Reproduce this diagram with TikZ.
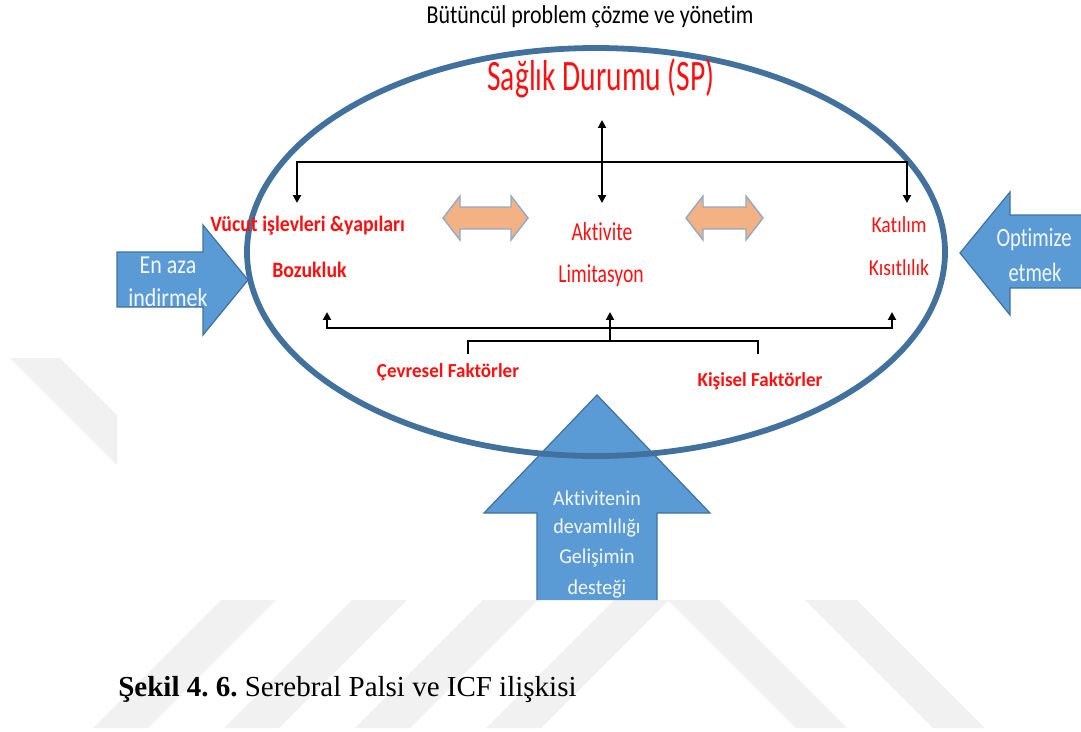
\documentclass[tikz,border=0pt]{standalone}
\usepackage{fontspec}
\usepackage{graphicx}
\setmainfont[Ligatures=NoCommon]{Carlito}
\newfontfamily\tnr{Liberation Serif}
\usetikzlibrary{arrows.meta}
\definecolor{ellc}{HTML}{41719C}
\definecolor{arrb}{HTML}{5B9BD5}
\definecolor{orng}{HTML}{F4B183}
\definecolor{orngb}{HTML}{8FAAC8}
\definecolor{wm}{HTML}{F1F1F1}
\definecolor{txtred}{HTML}{FF1010}
\definecolor{arrtxt}{HTML}{F4F7FC}
\newcommand\hs[2]{\scalebox{#1}[1]{#2}}
\newcommand\fsz[1]{\fontsize{#1}{#1}\selectfont}
\frenchspacing
\tikzset{
  >={Triangle[length=4.5pt,width=4.5pt]},
  ln/.style={line width=1.5pt, black},
  redtxt/.style={text=txtred, inner sep=0pt},
  arrtext/.style={text=arrtxt, inner sep=0pt},
  bluearrow/.style={fill=arrb, draw=ellc, line width=0.7pt, line join=miter},
  orangearrow/.style={fill=orng, draw=orngb, line width=0.8pt, line join=miter},
  wmark/.style={fill=wm, draw=none}
}
\begin{document}
\begin{tikzpicture}[x=0.02cm,y=-0.02cm]
\useasboundingbox (0,0) rectangle (1081,731);
% watermark stripes
\fill[wmark] (10,358) -- (60,358) -- (117,415) -- (117,465) -- cycle;
\foreach \t in {221,352,483,614}{
  \fill[wmark] (\t,600) -- (\t+55,600) -- (\t-73,728) -- (\t-128,728) -- cycle;
}
\fill[wmark] (668,600) -- (719,600) -- (847,728) -- (796,728) -- cycle;
\fill[wmark] (805,600) -- (857,600) -- (985,728) -- (933,728) -- cycle;

% blue arrows
\draw[bluearrow] (117,252) -- (203,252) -- (203,225) -- (248,280) -- (203,335) -- (203,307) -- (117,307) -- cycle;
\draw[bluearrow] (1081,215) -- (1010,215) -- (1010,192) -- (960,253) -- (1010,315) -- (1010,288) -- (1081,288);
\draw[bluearrow] (537,600) -- (537,513) -- (484,513) -- (597,395) -- (710,513) -- (657,513) -- (657,600);

% ellipse
\draw[ellc, line width=3.3pt] (596,252) ellipse [x radius=349, y radius=204];

% orange double arrows
\draw[orangearrow] (443,218) -- (460,196) -- (460,207) -- (511,207) -- (511,196) -- (528,218) -- (511,240) -- (511,229) -- (460,229) -- (460,240) -- cycle;
\draw[orangearrow] (686,218) -- (703,196) -- (703,207) -- (746,207) -- (746,196) -- (763,218) -- (746,240) -- (746,229) -- (703,229) -- (703,240) -- cycle;

% texts
\node[inner sep=0pt] (title) at (590,17) {\fsz{14.7}\hs{0.85}{Bütüncül problem çözme ve yönetim}};
\node[redtxt] (sp) at (601,78) {\fsz{24.7}\hs{0.68}{Sağlık Durumu (SP)}};
\node[redtxt, anchor=west] (vucut) at (210,226) {\fsz{12.5}\hs{0.9}{\bfseries Vücut işlevleri \&yapıları}};
\node[redtxt, anchor=west] (boz) at (272,270) {\fsz{12.5}\hs{0.9}{\bfseries Bozukluk}};
\node[redtxt] (akt) at (602,232) {\fsz{14.7}\hs{0.76}{Aktivite}};
\node[redtxt] (lim) at (601,276) {\fsz{14.7}\hs{0.76}{Limitasyon}};
\node[redtxt] (kat) at (899,225) {\fsz{13}\hs{0.86}{Katılım}};
\node[redtxt] (kis) at (899,268) {\fsz{13}\hs{0.86}{Kısıtlılık}};
\node[redtxt] (cev) at (448,372) {\fsz{11.3}\hs{0.96}{\bfseries Çevresel Faktörler}};
\node[redtxt] (kisi) at (760,381) {\fsz{11.3}\hs{0.96}{\bfseries Kişisel Faktörler}};
\node[arrtext] (enaza) at (168,265) {\fsz{14.7}\hs{0.85}{En aza}};
\node[arrtext] (indir) at (168,298) {\fsz{14.7}\hs{0.85}{indirmek}};
\node[arrtext] (opt) at (1034,240) {\fsz{15}\hs{0.78}{Optimize}};
\node[arrtext] (etm) at (1035,272) {\fsz{15}\hs{0.78}{etmek}};
\node[arrtext] (b1) at (597,498) {\fsz{12}\hs{0.95}{Aktivitenin}};
\node[arrtext] (b2) at (597,528) {\fsz{12}\hs{0.95}{devamlılığı}};
\node[arrtext] (b3) at (597,558) {\fsz{12}\hs{0.95}{Gelişimin}};
\node[arrtext] (b4) at (597,589) {\fsz{12}\hs{0.95}{desteği}};
\node[anchor=base west, inner sep=0pt] (cap) at (118,696) {\tnr\fsz{16.5}\textbf{Şekil 4. 6.} Serebral Palsi ve ICF ilişkisi};

% connector coordinates
\coordinate (vtop) at (602,120);
\coordinate (vbot) at (602,203);
\coordinate (tl) at (297,203);
\coordinate (tlc) at (297,162);
\coordinate (trc) at (907,162);
\coordinate (tr) at (907,203);
\coordinate (bl) at (327,312);
\coordinate (blc) at (327,328);
\coordinate (brc) at (892,328);
\coordinate (br) at (892,312);
\coordinate (cup) at (610,312);
\coordinate (cjn) at (610,341);
\coordinate (kl) at (468,354);
\coordinate (klc) at (468,341);
\coordinate (krc) at (758,341);
\coordinate (kr) at (758,354);

\draw[ln,<->] (vbot) -- (vtop);
\draw[ln,<->] (tl) -- (tlc) -- (trc) -- (tr);
\draw[ln,<->] (bl) -- (blc) -- (brc) -- (br);
\draw[ln,->] (cjn) -- (cup);
\draw[ln] (kl) -- (klc) -- (krc) -- (kr);
\end{tikzpicture}
\end{document}
